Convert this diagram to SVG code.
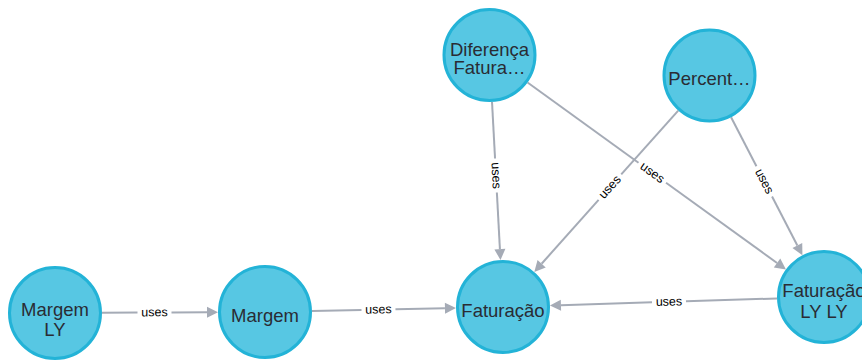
<svg xmlns="http://www.w3.org/2000/svg" width="862" height="361" viewBox="0 0 862 361">
  <style>
    .node circle { fill: #57c7e3; stroke: #23b3d7; stroke-width: 3; }
    .node text { font-family: "Liberation Sans", Arial, sans-serif; font-size: 18.5px; fill: #2a2c34; text-anchor: middle; }
    .rel line { stroke: #a5abb6; stroke-width: 2; }
    .rel polygon { fill: #a5abb6; }
    .rel text { font-family: "Liberation Sans", Arial, sans-serif; font-size: 12.5px; fill: #000; text-anchor: middle; }
  </style>
  <rect width="862" height="361" fill="#ffffff"/>

  <g id="connectors">
    <!-- Margem LY -> Margem -->
    <g class="rel" transform="translate(55,313) rotate(-0.27)">
      <line x1="47" y1="0" x2="82.5" y2="0"/>
      <line x1="116.5" y1="0" x2="152" y2="0"/>
      <polygon points="163,0 152,-5.5 152,5.5"/>
      <text x="99.5" y="3.8">uses</text>
    </g>
    <!-- Margem -> Faturação -->
    <g class="rel" transform="translate(265,312) rotate(-1.2)">
      <line x1="47" y1="0" x2="96.5" y2="0"/>
      <line x1="130.5" y1="0" x2="180" y2="0"/>
      <polygon points="191,0 180,-5.5 180,5.5"/>
      <text x="113.5" y="3.8">uses</text>
    </g>
    <!-- Diferença Fatura… -> Faturação -->
    <g class="rel" transform="translate(489.5,55) rotate(86.93)">
      <line x1="47" y1="0" x2="103.7" y2="0"/>
      <line x1="137.7" y1="0" x2="194.4" y2="0"/>
      <polygon points="205.4,0 194.4,-5.5 194.4,5.5"/>
      <text x="120.7" y="3.8">uses</text>
    </g>
    <!-- Diferença Fatura… -> Faturação LY LY -->
    <g class="rel" transform="translate(489.5,55) rotate(35.88)">
      <line x1="47" y1="0" x2="183.9" y2="0"/>
      <line x1="217.9" y1="0" x2="354.9" y2="0"/>
      <polygon points="365.9,0 354.9,-5.5 354.9,5.5"/>
      <text x="200.9" y="3.8">uses</text>
    </g>
    <!-- Percent… -> Faturação -->
    <g class="rel" transform="translate(709.5,75.5) rotate(131.73)">
      <line x1="47" y1="0" x2="132.6" y2="0"/>
      <line x1="166.6" y1="0" x2="252.2" y2="0"/>
      <polygon points="263.2,0 252.2,-5.5 252.2,5.5"/>
      <text x="149.6" y="3.8" transform="rotate(180,149.6,0)">uses</text>
    </g>
    <!-- Percent… -> Faturação LY LY -->
    <g class="rel" transform="translate(709.5,75.5) rotate(62.66)">
      <line x1="47" y1="0" x2="102.2" y2="0"/>
      <line x1="136.2" y1="0" x2="191.3" y2="0"/>
      <polygon points="202.3,0 191.3,-5.5 191.3,5.5"/>
      <text x="119.2" y="3.8">uses</text>
    </g>
    <!-- Faturação LY LY -> Faturação -->
    <g class="rel" transform="translate(824,297) rotate(178.22)">
      <line x1="47" y1="0" x2="138.1" y2="0"/>
      <line x1="172.1" y1="0" x2="263.2" y2="0"/>
      <polygon points="274.2,0 263.2,-5.5 263.2,5.5"/>
      <text x="155.1" y="3.8" transform="rotate(180,155.1,0)">uses</text>
    </g>
  </g>

  <g id="node-margem-ly" class="node">
    <circle cx="55" cy="313" r="45.5"/>
    <text x="55" y="316">Margem</text>
    <text x="55" y="335.5">LY</text>
  </g>
  <g id="node-margem" class="node">
    <circle cx="265" cy="312" r="45.5"/>
    <text x="265" y="322">Margem</text>
  </g>
  <g id="node-faturacao" class="node">
    <circle cx="503" cy="307" r="45.5"/>
    <text x="503" y="317">Faturação</text>
  </g>
  <g id="node-diferenca" class="node">
    <circle cx="489.5" cy="55" r="45.5"/>
    <text x="489.5" y="55.5">Diferença</text>
    <text x="489.5" y="74">Fatura…</text>
  </g>
  <g id="node-percent" class="node">
    <circle cx="709.5" cy="75.5" r="45.5"/>
    <text x="709.5" y="85">Percent…</text>
  </g>
  <g id="node-faturacao-ly-ly" class="node">
    <circle cx="824" cy="297" r="45.5"/>
    <text x="824" y="297">Faturação</text>
    <text x="824" y="318">LY LY</text>
  </g>
</svg>
